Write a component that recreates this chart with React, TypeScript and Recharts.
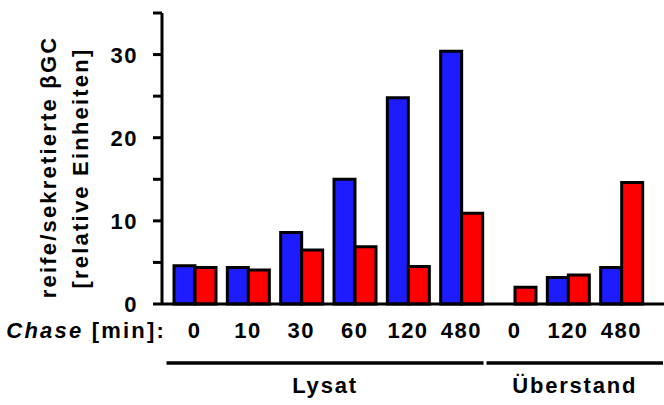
import { BarChart, Bar, XAxis, YAxis } from 'recharts'

// chase times (min) per sample, Lysat first, then Überstand
const chaseLabels = ['0', '10', '30', '60', '120', '480', '0', '120', '480']
const sampleGroup = ['Lysat', 'Lysat', 'Lysat', 'Lysat', 'Lysat', 'Lysat', 'Überstand', 'Überstand', 'Überstand']
const blueValues = [4.6, 4.4, 8.6, 15.0, 24.8, 30.4, null, 3.2, 4.4]
const redValues = [4.4, 4.1, 6.5, 6.9, 4.5, 10.9, 2.0, 3.5, 14.6]
const yTicks = [0, 5, 10, 15, 20, 25, 30, 35]
const groupNames = ['Lysat', 'Überstand']

const rows = chaseLabels.map((label, i) => ({
  id: `${sampleGroup[i]}-${label}`,
  label,
  group: sampleGroup[i],
  blue: blueValues[i],
  red: redValues[i],
}))

const W = 664
const H = 405
const Y_W = 162
const PAD_L = 6
const PAD_R = 16
const BAND = (W - Y_W - PAD_L - PAD_R) / rows.length
const TICK_SIZE = 7
const TICK_MARGIN = 17

const FONT = '"Liberation Sans", Arial, Helvetica, sans-serif'
const textStyle = { fontFamily: FONT, fontWeight: 700, fontSize: 22, fill: '#000' }

function YTick({ x, y, payload }: any) {
  return (
    <g>
      <line x1={Y_W - TICK_SIZE - 2} x2={Y_W} y1={y} y2={y} stroke="#000" strokeWidth={3} />
      {payload.value % 10 === 0 && payload.value <= 30 && (
        <text x={x} y={y} dy={8} textAnchor="end" letterSpacing={1.5} style={textStyle}>
          {payload.value}
        </text>
      )}
    </g>
  )
}

function YTitle() {
  return (
    <g>
      <text transform="rotate(-90)" x={-167} y={56} textAnchor="middle" letterSpacing={2.2} style={textStyle}>
        reife/sekretierte βGC
      </text>
      <text transform="rotate(-90)" x={-168} y={88} textAnchor="middle" letterSpacing={2.2} style={textStyle}>
        [relative Einheiten]
      </text>
    </g>
  )
}

function ChaseTitle({ viewBox }: any) {
  const { x, y } = viewBox
  return (
    <text x={x + 4} y={y + 34} textAnchor="end" letterSpacing={2.2} style={textStyle}>
      <tspan fontStyle="italic">Chase</tspan> [min]:
    </text>
  )
}

function SampleTick({ x, y, index }: any) {
  const row = rows[index]
  const gi = groupNames.indexOf(row.group)
  const isFirst = index === 0 || rows[index - 1].group !== row.group
  let bracket = null
  if (isFirst) {
    const count = rows.filter(r => r.group === row.group).length
    const isLast = gi === groupNames.length - 1
    const left = x - BAND / 2 - 1.5
    const right = x + (count - 1) * BAND + BAND / 2 + (isLast ? 15 : -4.5)
    bracket = (
      <g>
        <line x1={left} x2={right} y1={y + 59} y2={y + 59} stroke="#000" strokeWidth={3.5} />
        <text x={(left + right) / 2} y={y + 89} textAnchor="middle" letterSpacing={1.8} style={textStyle}>
          {row.group}
        </text>
      </g>
    )
  }
  return (
    <g>
      <text x={x} y={y + 34} textAnchor="middle" letterSpacing={1.5} style={textStyle}>
        {row.label}
      </text>
      {bracket}
    </g>
  )
}

export default function App() {
  return (
    <div style={{ position: 'absolute', left: 0, top: 0, width: W, height: H, background: '#fff' }}>
      <BarChart
        width={W}
        height={H}
        data={rows}
        margin={{ top: 13, right: 0, bottom: 0, left: 0 }}
        barGap={0}
        barSize={21}
      >
        <XAxis
          dataKey="id"
          interval={0}
          height={101}
          padding={{ left: PAD_L, right: PAD_R }}
          axisLine={{ stroke: '#000', strokeWidth: 3 }}
          tickLine={false}
          tickSize={0}
          tickMargin={0}
          tick={<SampleTick />}
          label={<ChaseTitle />}
        />
        <YAxis
          width={Y_W}
          domain={[0, 35]}
          ticks={yTicks}
          interval={0}
          axisLine={{ stroke: '#000', strokeWidth: 3 }}
          tickLine={false}
          tickSize={TICK_SIZE}
          tickMargin={TICK_MARGIN}
          tick={<YTick />}
          label={<YTitle />}
        />
        <Bar dataKey="blue" fill="#1c1cff" stroke="#000" strokeWidth={3} isAnimationActive={false} />
        <Bar dataKey="red" fill="#ff0000" stroke="#000" strokeWidth={3} isAnimationActive={false} />
      </BarChart>
    </div>
  )
}
